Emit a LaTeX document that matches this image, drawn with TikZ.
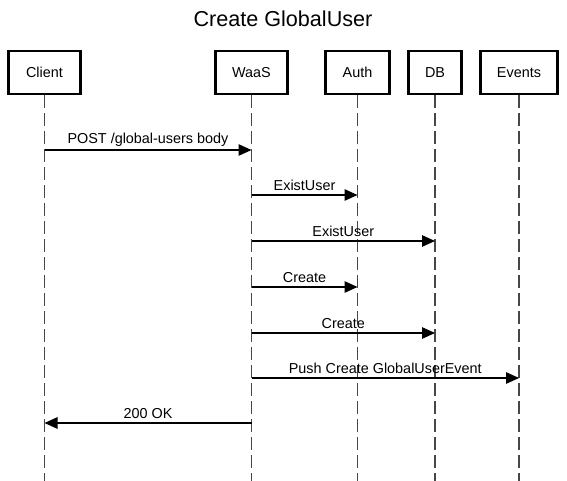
\documentclass[tikz,border=0pt]{standalone}
\usepackage{fontspec}
\setmainfont{Liberation Sans}
\usetikzlibrary{arrows.meta,positioning}

\begin{document}
\begin{tikzpicture}[x=1pt,y=-1pt,font=\fontsize{14.4}{17}\selectfont]
\tikzstyle{actor}=[draw=black,line width=2.8pt,minimum height=43pt,inner sep=0pt]
\tikzstyle{lifeline}=[draw=black!72,line width=1.5pt,dash pattern=on 12.5pt off 5.5pt]
\tikzstyle{msg}=[-{Triangle[length=13pt,width=11.5pt]},line width=1.2pt]

\useasboundingbox (0,0) rectangle (567,481);

\node[font=\fontsize{21.6}{26}\selectfont] (title) at (283,19) {Create GlobalUser};

% participants
\node[actor,minimum width=72.2pt] (client) at (44.5,72.5) {Client};
\node[actor,minimum width=72.2pt] (waas)   at (251.5,72.5) {WaaS};
\node[actor,minimum width=64.2pt] (auth)   at (357.5,72.5) {Auth};
\node[actor,minimum width=53.2pt] (db)     at (435,72.5) {DB};
\node[actor,minimum width=77.2pt] (events) at (519,72.5) {Events};

\coordinate (bottom) at (0,481);
\foreach \who in {client,waas,auth,db,events}
  \draw[lifeline] (\who.south) -- (\who |- bottom);

% message levels
\foreach \lvl/\y in {m1/150,m2/195,m3/241,m4/287,m5/333,m6/378,m7/423}
  \coordinate (\lvl) at (0,\y);

\draw[msg] (client |- m1) -- node[above] {POST /global-users body} (waas |- m1);
\draw[msg] (waas |- m2) -- node[above] {ExistUser} (auth |- m2);
\draw[msg] (waas |- m3) -- node[above] {ExistUser} (db |- m3);
\draw[msg] (waas |- m4) -- node[above] {Create} (auth |- m4);
\draw[msg] (waas |- m5) -- node[above] {Create} (db |- m5);
\draw[msg] (waas |- m6) -- node[above] {Push Create GlobalUserEvent} (events |- m6);
\draw[msg] (waas |- m7) -- node[above] {200 OK} (client |- m7);
\end{tikzpicture}
\end{document}
